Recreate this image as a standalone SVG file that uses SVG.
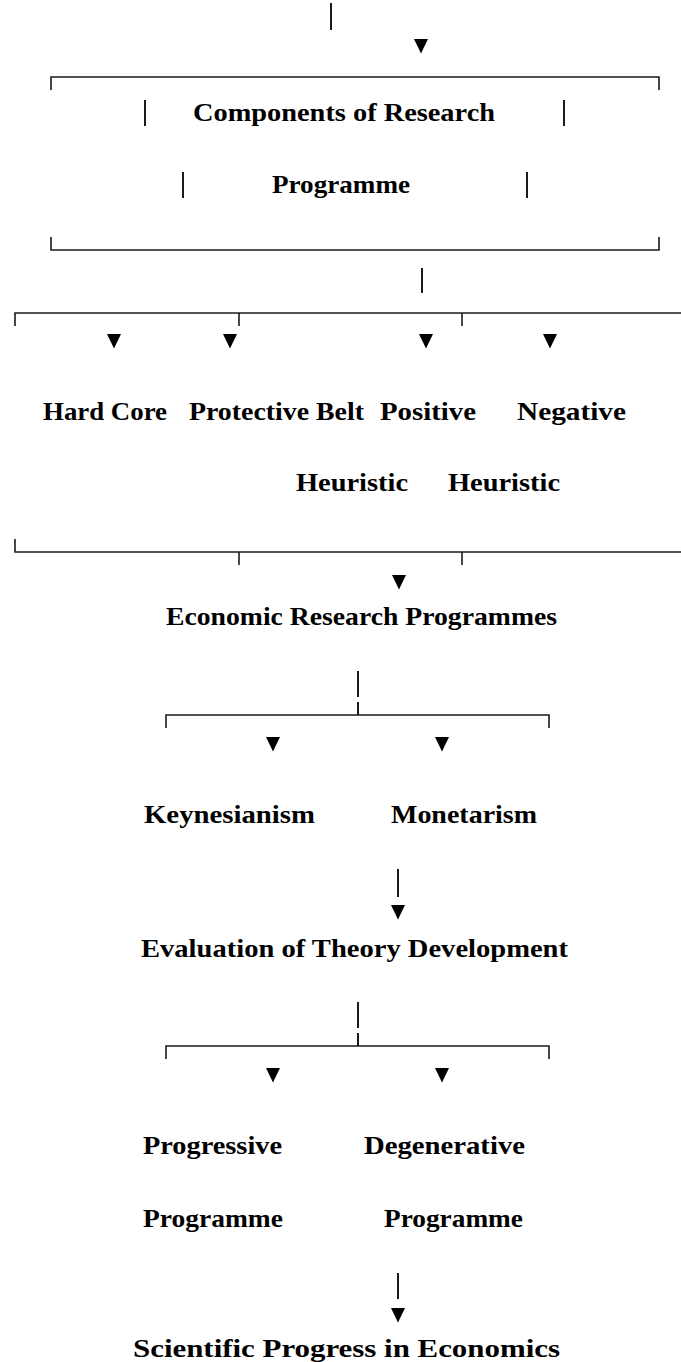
<svg xmlns="http://www.w3.org/2000/svg" width="681" height="1362" viewBox="0 0 681 1362">
<style>
.t{font-family:"Liberation Serif","DejaVu Serif",serif;font-weight:bold;font-size:26px;fill:#000}
.ln{fill:none;stroke:#1a1a1a;stroke-width:1.6}
.bar{fill:none;stroke:#1a1a1a;stroke-width:2}
.ah{fill:#000}
</style>
<defs>
<polygon id="tri" class="ah" points="-7,0 7,0 0,14.5"/>
</defs>
<rect width="681" height="1362" fill="#fff"/>
<g id="connectors">
<line class="bar" x1="331" y1="3" x2="331" y2="30"/>
<use href="#tri" x="421" y="39"/>
<path class="ln" d="M51,90 V77 H659 V90"/>
<line class="bar" x1="145" y1="100" x2="145" y2="126"/>
<line class="bar" x1="564" y1="100" x2="564" y2="126"/>
<line class="bar" x1="183" y1="172" x2="183" y2="198"/>
<line class="bar" x1="527" y1="172" x2="527" y2="198"/>
<path class="ln" d="M51,237 V250 H659 V237"/>
<line class="bar" x1="422" y1="268" x2="422" y2="293"/>
<path class="ln" d="M15,326 V313 H681"/>
<line class="ln" x1="239" y1="313" x2="239" y2="326"/>
<line class="ln" x1="462" y1="313" x2="462" y2="326"/>
<use href="#tri" x="114" y="334"/>
<use href="#tri" x="230" y="334"/>
<use href="#tri" x="426" y="334"/>
<use href="#tri" x="550" y="334"/>
<path class="ln" d="M15,539 V552 H681"/>
<line class="ln" x1="239" y1="552" x2="239" y2="565"/>
<line class="ln" x1="462" y1="552" x2="462" y2="565"/>
<use href="#tri" x="399" y="575"/>
<line class="bar" x1="358" y1="671" x2="358" y2="697"/>
<line class="bar" x1="358" y1="702" x2="358" y2="715"/>
<path class="ln" d="M166,728 V715 H549 V728"/>
<use href="#tri" x="273" y="737"/>
<use href="#tri" x="442" y="737"/>
<line class="bar" x1="398" y1="869" x2="398" y2="897"/>
<use href="#tri" x="398" y="905"/>
<line class="bar" x1="358" y1="1002" x2="358" y2="1028"/>
<line class="bar" x1="358" y1="1033" x2="358" y2="1046"/>
<path class="ln" d="M166,1059 V1046 H549 V1059"/>
<use href="#tri" x="273" y="1068"/>
<use href="#tri" x="442" y="1068"/>
<line class="bar" x1="398" y1="1273" x2="398" y2="1299"/>
<use href="#tri" x="398" y="1308"/>
</g>
<g id="node-components">
<text class="t" x="193" y="121" textLength="302" lengthAdjust="spacingAndGlyphs">Components of Research</text>
<text class="t" x="272" y="193" textLength="138" lengthAdjust="spacingAndGlyphs">Programme</text>
</g>
<g id="node-hardcore"><text class="t" x="43" y="420" textLength="124" lengthAdjust="spacingAndGlyphs">Hard Core</text></g>
<g id="node-protective"><text class="t" x="189" y="420" textLength="175" lengthAdjust="spacingAndGlyphs">Protective Belt</text></g>
<g id="node-positive">
<text class="t" x="380" y="420" textLength="96" lengthAdjust="spacingAndGlyphs">Positive</text>
<text class="t" x="296" y="491" textLength="112" lengthAdjust="spacingAndGlyphs">Heuristic</text>
</g>
<g id="node-negative">
<text class="t" x="517" y="420" textLength="109" lengthAdjust="spacingAndGlyphs">Negative</text>
<text class="t" x="448" y="491" textLength="112" lengthAdjust="spacingAndGlyphs">Heuristic</text>
</g>
<g id="node-economic"><text class="t" x="166" y="625" textLength="391" lengthAdjust="spacingAndGlyphs">Economic Research Programmes</text></g>
<g id="node-keynesianism"><text class="t" x="144" y="823" textLength="171" lengthAdjust="spacingAndGlyphs">Keynesianism</text></g>
<g id="node-monetarism"><text class="t" x="391" y="823" textLength="146" lengthAdjust="spacingAndGlyphs">Monetarism</text></g>
<g id="node-evaluation"><text class="t" x="141" y="957" textLength="427" lengthAdjust="spacingAndGlyphs">Evaluation of Theory Development</text></g>
<g id="node-progressive">
<text class="t" x="143" y="1154" textLength="139" lengthAdjust="spacingAndGlyphs">Progressive</text>
<text class="t" x="143" y="1227" textLength="140" lengthAdjust="spacingAndGlyphs">Programme</text>
</g>
<g id="node-degenerative">
<text class="t" x="364" y="1154" textLength="161" lengthAdjust="spacingAndGlyphs">Degenerative</text>
<text class="t" x="384" y="1227" textLength="139" lengthAdjust="spacingAndGlyphs">Programme</text>
</g>
<g id="node-scientific"><text class="t" x="133" y="1357" textLength="427" lengthAdjust="spacingAndGlyphs">Scientific Progress in Economics</text></g>
</svg>
